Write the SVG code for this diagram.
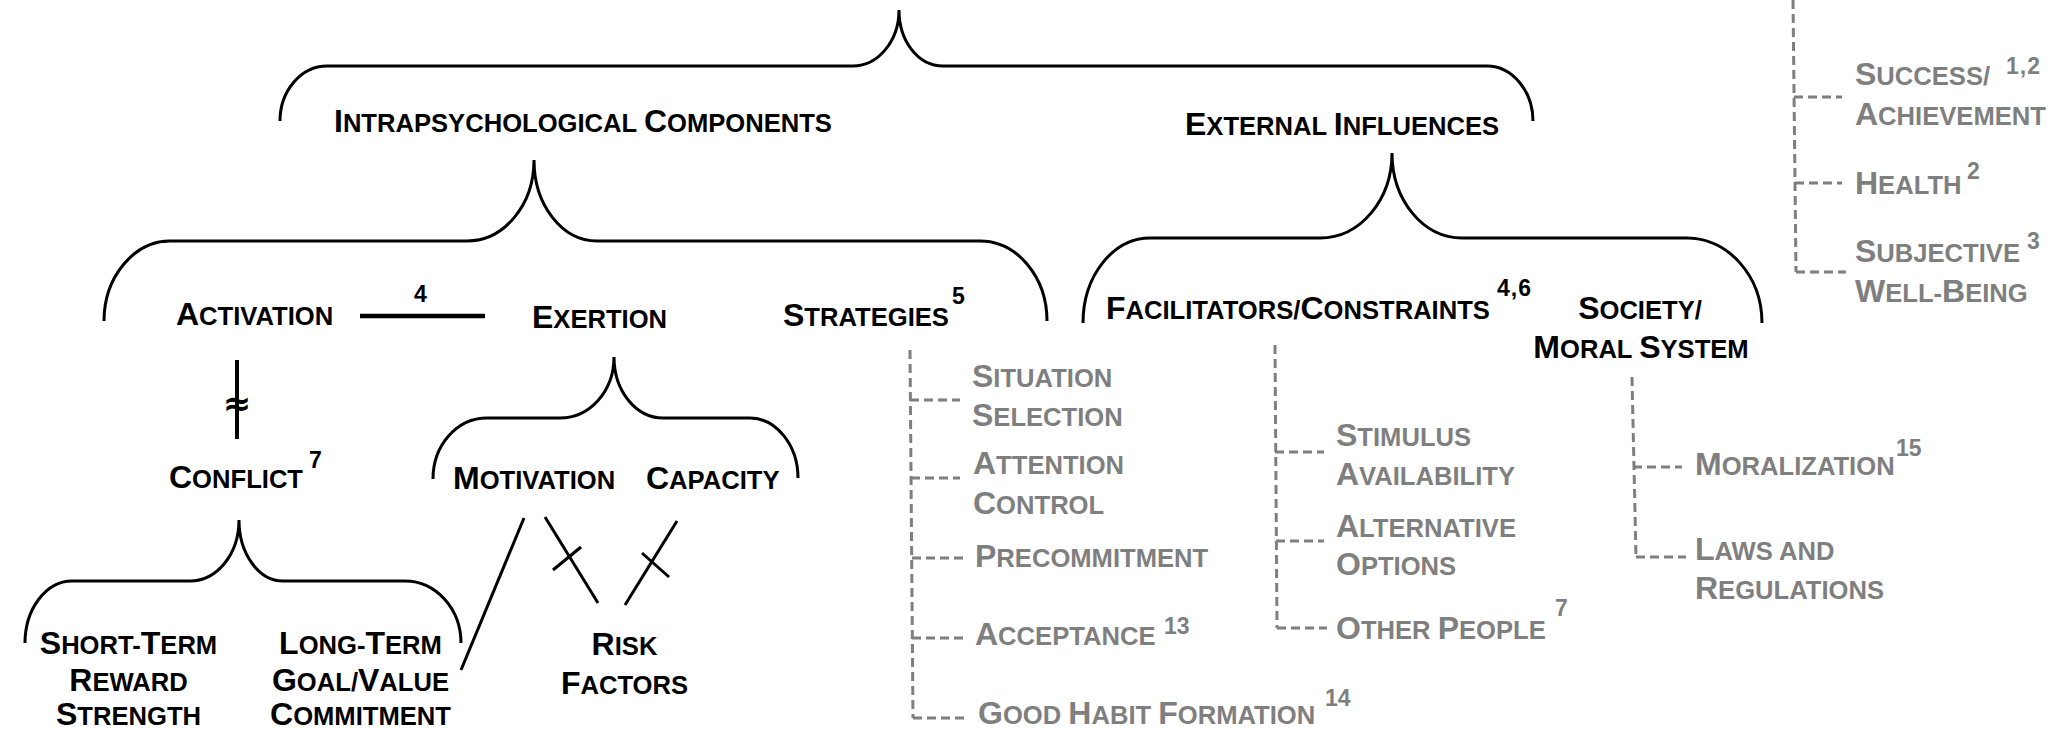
<svg xmlns="http://www.w3.org/2000/svg" width="2067" height="731" viewBox="0 0 2067 731">
<style>
.t{font-family:"Liberation Sans",Arial,sans-serif;font-weight:bold;font-size:32px;fill:#000}
.sc{font-size:25.6px}
.sup{font-family:"Liberation Sans",Arial,sans-serif;font-weight:bold;font-size:23px;fill:#000}
.g{fill:#7f7f7f}
.m{text-anchor:middle}
.br{fill:none;stroke:#000;stroke-width:3}
.ln{fill:none;stroke:#000;stroke-width:3}
.dash{fill:none;stroke:#7f7f7f;stroke-width:3;stroke-dasharray:9 5}
</style>
<rect width="2067" height="731" fill="#fff"/>
<g id="connectors">
<path class="br" d="M280,121 C280,91 301,66 327,66 L853,66 C878,66 899,41 899,10 C899,41 918,66 943,66 L1487,66 C1512,66 1533,91 1533,121"/>
<path class="br" d="M104,321 C104,277 134,241 170,241 L467,241 C504,241 534,205 534,160 C534,205 562,241 597,241 L980,241 C1017,241 1047,277 1047,321"/>
<path class="br" d="M1083,323 C1083,276 1113,238 1150,238 L1320,238 C1360,238 1392,200 1392,153 C1392,200 1423,238 1462,238 L1687,238 C1728,238 1762,276 1762,323"/>
<path class="br" d="M25,643 C25,609 46,581 72,581 L190,581 C217,581 239,554 239,520 C239,554 259,581 283,581 L405,581 C436,581 461,609 461,643"/>
<path class="br" d="M433,479 C433,445 457,418 487,418 L560,418 C590,418 614,391 614,357 C614,391 636,418 663,418 L750,418 C776,418 798,445 798,478"/>
<line x1="360" y1="316" x2="485" y2="316" stroke="#000" stroke-width="4.5"/>
<line x1="237" y1="360" x2="237" y2="439" stroke="#000" stroke-width="4"/>
<text x="237" y="415" font-family="'DejaVu Sans',sans-serif" font-weight="bold" font-size="34" text-anchor="middle" fill="#000">≈</text>
<text class="sup" x="414" y="302">4</text>
<line class="ln" x1="461" y1="670" x2="524" y2="518"/>
<line class="ln" x1="545" y1="517" x2="598" y2="603"/>
<line class="ln" x1="553" y1="570" x2="581" y2="547"/>
<line class="ln" x1="677" y1="521" x2="625" y2="605"/>
<line class="ln" x1="642" y1="553" x2="669" y2="577"/>
<path class="dash" d="M910,350 L913,718"/>
<path class="dash" d="M910,400 H960 M911,478 H960 M912,558 H964 M912,638 H964 M913,718 H964"/>
<path class="dash" d="M1275,345 L1277,628"/>
<path class="dash" d="M1275,452 H1324 M1276,541 H1324 M1277,628 H1327"/>
<path class="dash" d="M1632,377 L1636,557"/>
<path class="dash" d="M1633,467 H1682 M1636,557 H1686"/>
<path class="dash" d="M1793,0 L1796,272"/>
<path class="dash" d="M1794,97 H1842 M1795,183 H1842 M1796,272 H1846"/>
</g>
<g id="intrapsych"><text class="t" x="334" y="132">I<tspan class="sc">NTRAPSYCHOLOGICAL </tspan>C<tspan class="sc">OMPONENTS</tspan></text></g>
<g id="external"><text class="t" x="1185" y="134.5">E<tspan class="sc">XTERNAL </tspan>I<tspan class="sc">NFLUENCES</tspan></text></g>
<g id="activation"><text class="t" x="176" y="324.5">A<tspan class="sc">CTIVATION</tspan></text></g>
<g id="exertion"><text class="t" x="532" y="328">E<tspan class="sc">XERTION</tspan></text></g>
<g id="strategies"><text class="t" x="783" y="326">S<tspan class="sc">TRATEGIES</tspan></text><text class="sup" x="952" y="304">5</text></g>
<g id="facilitators"><text class="t" x="1106" y="318.5">F<tspan class="sc">ACILITATORS/</tspan>C<tspan class="sc">ONSTRAINTS</tspan></text><text class="sup" x="1497" y="296" letter-spacing="1">4,6</text></g>
<g id="society"><text class="t m" x="1640" y="318.5">S<tspan class="sc">OCIETY/</tspan></text><text class="t m" x="1641" y="358">M<tspan class="sc">ORAL </tspan>S<tspan class="sc">YSTEM</tspan></text></g>
<g id="conflict"><text class="t" x="169" y="488">C<tspan class="sc">ONFLICT</tspan></text><text class="sup" x="309" y="468">7</text></g>
<g id="motivation"><text class="t" x="453" y="488.5">M<tspan class="sc">OTIVATION</tspan></text></g>
<g id="capacity"><text class="t" x="646" y="488.5">C<tspan class="sc">APACITY</tspan></text></g>
<g id="shortterm"><text class="t m" x="128.5" y="654">S<tspan class="sc">HORT-</tspan>T<tspan class="sc">ERM</tspan></text><text class="t m" x="128.5" y="691">R<tspan class="sc">EWARD</tspan></text><text class="t m" x="128.5" y="725">S<tspan class="sc">TRENGTH</tspan></text></g>
<g id="longterm"><text class="t m" x="360.5" y="654">L<tspan class="sc">ONG-</tspan>T<tspan class="sc">ERM</tspan></text><text class="t m" x="360.5" y="691">G<tspan class="sc">OAL/</tspan>V<tspan class="sc">ALUE</tspan></text><text class="t m" x="360.5" y="725">C<tspan class="sc">OMMITMENT</tspan></text></g>
<g id="risk"><text class="t m" x="624.5" y="655">R<tspan class="sc">ISK</tspan></text><text class="t m" x="624.5" y="693.5">F<tspan class="sc">ACTORS</tspan></text></g>
<g id="situation"><text class="t g" x="972" y="387">S<tspan class="sc">ITUATION</tspan></text><text class="t g" x="972" y="426">S<tspan class="sc">ELECTION</tspan></text></g>
<g id="attention"><text class="t g" x="973" y="473.5">A<tspan class="sc">TTENTION</tspan></text><text class="t g" x="973" y="513.5">C<tspan class="sc">ONTROL</tspan></text></g>
<g id="precommitment"><text class="t g" x="975" y="567">P<tspan class="sc">RECOMMITMENT</tspan></text></g>
<g id="acceptance"><text class="t g" x="975" y="645">A<tspan class="sc">CCEPTANCE</tspan></text><text class="sup g" x="1164" y="634">13</text></g>
<g id="habit"><text class="t g" x="978" y="723.5">G<tspan class="sc">OOD </tspan>H<tspan class="sc">ABIT </tspan>F<tspan class="sc">ORMATION</tspan></text><text class="sup g" x="1325" y="706">14</text></g>
<g id="stimulus"><text class="t g" x="1336" y="446">S<tspan class="sc">TIMULUS</tspan></text><text class="t g" x="1336" y="485">A<tspan class="sc">VAILABILITY</tspan></text></g>
<g id="alternative"><text class="t g" x="1336" y="537">A<tspan class="sc">LTERNATIVE</tspan></text><text class="t g" x="1336" y="575">O<tspan class="sc">PTIONS</tspan></text></g>
<g id="otherpeople"><text class="t g" x="1336" y="638.5">O<tspan class="sc">THER </tspan>P<tspan class="sc">EOPLE</tspan></text><text class="sup g" x="1555" y="616">7</text></g>
<g id="moralization"><text class="t g" x="1695" y="475">M<tspan class="sc">ORALIZATION</tspan></text><text class="sup g" x="1896" y="456">15</text></g>
<g id="laws"><text class="t g" x="1695" y="559.5">L<tspan class="sc">AWS AND</tspan></text><text class="t g" x="1695" y="598.5">R<tspan class="sc">EGULATIONS</tspan></text></g>
<g id="success"><text class="t g" x="1855" y="85">S<tspan class="sc">UCCESS/</tspan></text><text class="sup g" x="2006" y="74" letter-spacing="1">1,2</text><text class="t g" x="1855" y="125">A<tspan class="sc">CHIEVEMENT</tspan></text></g>
<g id="health"><text class="t g" x="1855" y="193.5">H<tspan class="sc">EALTH</tspan></text><text class="sup g" x="1967" y="179">2</text></g>
<g id="subjective"><text class="t g" x="1855" y="262">S<tspan class="sc">UBJECTIVE</tspan></text><text class="sup g" x="2027" y="249">3</text><text class="t g" x="1855" y="302">W<tspan class="sc">ELL-</tspan>B<tspan class="sc">EING</tspan></text></g>
</svg>
